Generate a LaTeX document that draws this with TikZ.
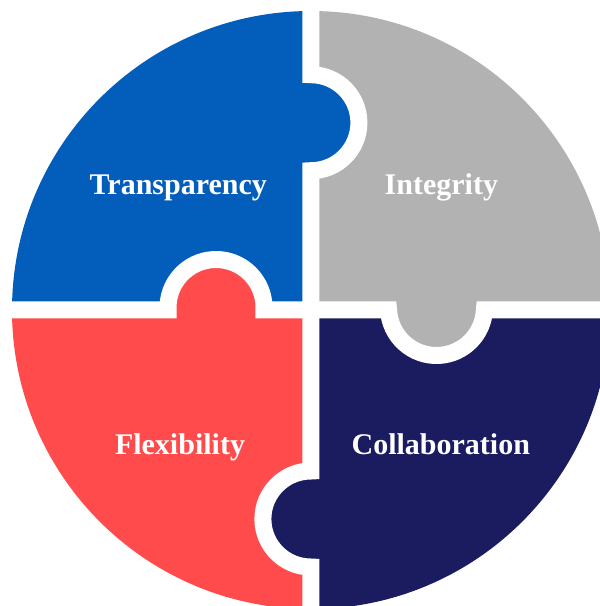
\documentclass[tikz,border=0pt]{standalone}
\usepackage{fontspec}
\setmainfont{Liberation Serif}
\definecolor{pblue}{HTML}{035DBA}
\definecolor{pgray}{HTML}{B2B2B2}
\definecolor{pred}{HTML}{FF4B4B}
\definecolor{pnavy}{HTML}{1B1C60}
\begin{document}
\begin{tikzpicture}[x=1pt,y=-1pt,
  piece/.style={fill=#1,draw=none},
  cut/.style={draw=white,line width=17pt,line join=miter},
  word/.style={text=white,anchor=base,inner sep=0pt,
    font=\bfseries\fontsize{30}{36}\selectfont}]
\useasboundingbox (0,0) rectangle (600,606);
\begin{scope}
  \clip (0,0) rectangle (600,606);
  \begin{scope}
    \clip (311,310) circle[radius=299];
    % top-left piece with a knob to the right
    \path[piece=pblue] (-10,-10) -- (310.9,-10) -- (310.9,74.7)
      arc[start angle=-90,end angle=90,radius=48] -- (310.9,309.8)
      -- (263.94,309.8)
      arc[start angle=2.75,end angle=-182.75,radius=48]
      -- (-10,309.8) -- cycle;
    % top-right piece with a knob downwards
    \path[piece=pgray] (310.9,-10) -- (620,-10) -- (620,309.8)
      -- (484.45,309.8)
      arc[start angle=2.75,end angle=177.25,radius=48]
      -- (310.9,309.8) -- (310.9,170.7)
      arc[start angle=90,end angle=-90,radius=48] -- cycle;
    % bottom-right piece with a knob to the left
    \path[piece=pnavy] (310.9,309.8) -- (388.55,309.8)
      arc[start angle=177.25,end angle=2.75,radius=48]
      -- (620,309.8) -- (620,620) -- (310.9,620) -- (310.9,567)
      arc[start angle=90,end angle=270,radius=48] -- cycle;
    % bottom-left piece with a knob upwards
    \path[piece=pred] (-10,309.8) -- (168.06,309.8)
      arc[start angle=177.25,end angle=362.75,radius=48]
      -- (310.9,309.8) -- (310.9,471)
      arc[start angle=270,end angle=90,radius=48] -- (310.9,620)
      -- (-10,620) -- cycle;
  \end{scope}
  % white gaps between the pieces
  \path[cut] (310.9,-10) -- (310.9,74.7)
    arc[start angle=-90,end angle=90,radius=48] -- (310.9,471)
    arc[start angle=270,end angle=90,radius=48] -- (310.9,620);
  \path[cut] (-10,309.8) -- (168.06,309.8)
    arc[start angle=177.25,end angle=362.75,radius=48]
    -- (388.55,309.8)
    arc[start angle=177.25,end angle=2.75,radius=48]
    -- (620,309.8);
\end{scope}
\node[word] (transparency) at (178.3,194.3) {Transparency};
\node[word] (integrity) at (441.4,194.3) {Integrity};
\node[word] (flexibility) at (180,454.3) {Flexibility};
\node[word] (collaboration) at (440.8,454.3) {Collaboration};
\end{tikzpicture}
\end{document}
